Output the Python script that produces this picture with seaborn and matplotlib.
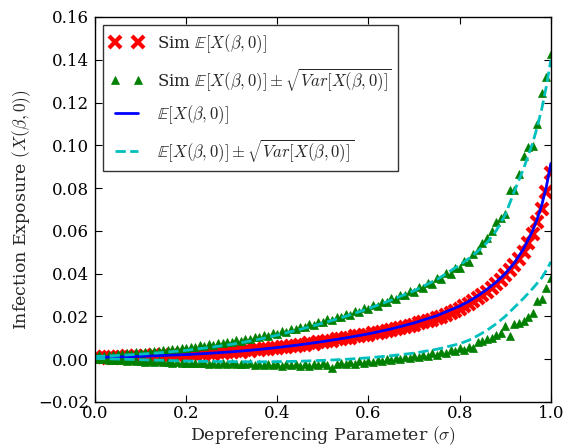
import numpy as np
import matplotlib
matplotlib.use('Agg')
import matplotlib.pyplot as plt
import seaborn as sns

# simulation grid (sigma) and simulated values
sigma = np.linspace(0, 1, 101)

sim_mean = [
    0.0009, 0.0006, 0.0011, 0.0008, 0.0007, 0.0012, 0.0009, 0.0013, 0.0010, 0.0014,
    0.0012, 0.0016, 0.0013, 0.0017, 0.0015, 0.0019, 0.0016, 0.0021, 0.0018, 0.0022,
    0.0020, 0.0024, 0.0021, 0.0027, 0.0024, 0.0029, 0.0026, 0.0032, 0.0029, 0.0035,
    0.0032, 0.0038, 0.0035, 0.0041, 0.0038, 0.0045, 0.0042, 0.0049, 0.0047, 0.0054,
    0.0051, 0.0058, 0.0056, 0.0063, 0.0061, 0.0068, 0.0066, 0.0074, 0.0072, 0.0080,
    0.0078, 0.0086, 0.0085, 0.0092, 0.0092, 0.0099, 0.0099, 0.0106, 0.0106, 0.0113,
    0.0113, 0.0120, 0.0121, 0.0129, 0.0130, 0.0137, 0.0140, 0.0147, 0.0150, 0.0157,
    0.0160, 0.0168, 0.0172, 0.0180, 0.0185, 0.0193, 0.0199, 0.0208, 0.0216, 0.0226,
    0.0236, 0.0247, 0.0258, 0.0271, 0.0285, 0.0299, 0.0315, 0.0332, 0.0350, 0.0370,
    0.0391, 0.0415, 0.0441, 0.0470, 0.0503, 0.0542, 0.0587, 0.0640, 0.0702, 0.0780,
    0.0870,
]

sim_upper = [
    0.0015, 0.0018, 0.0016, 0.0021, 0.0019, 0.0024, 0.0022, 0.0027, 0.0025, 0.0031,
    0.0030, 0.0035, 0.0033, 0.0039, 0.0037, 0.0044, 0.0042, 0.0049, 0.0046, 0.0054,
    0.0052, 0.0058, 0.0057, 0.0064, 0.0062, 0.0069, 0.0068, 0.0075, 0.0073, 0.0082,
    0.0080, 0.0089, 0.0086, 0.0096, 0.0093, 0.0104, 0.0101, 0.0112, 0.0109, 0.0121,
    0.0118, 0.0131, 0.0128, 0.0141, 0.0139, 0.0152, 0.0150, 0.0163, 0.0160, 0.0175,
    0.0172, 0.0186, 0.0184, 0.0198, 0.0196, 0.0211, 0.0207, 0.0225, 0.0222, 0.0238,
    0.0236, 0.0253, 0.0249, 0.0268, 0.0265, 0.0284, 0.0280, 0.0301, 0.0298, 0.0318,
    0.0314, 0.0337, 0.0333, 0.0357, 0.0352, 0.0378, 0.0375, 0.0402, 0.0398, 0.0428,
    0.0425, 0.0458, 0.0455, 0.0490, 0.0510, 0.0545, 0.0565, 0.0600, 0.0640, 0.0660,
    0.0680, 0.0790, 0.0790, 0.0865, 0.0950, 0.0990, 0.0995, 0.1100, 0.1245, 0.1320,
    0.1425,
]

sim_lower = [
    0.0002, -0.0001, 0.0000, -0.0004, -0.0002, -0.0006, -0.0004, -0.0008, -0.0006, -0.0010,
    -0.0008, -0.0012, -0.0010, -0.0014, -0.0011, -0.0015, -0.0013, -0.0017, -0.0014, -0.0018,
    -0.0016, -0.0019, -0.0016, -0.0020, -0.0017, -0.0021, -0.0018, -0.0022, -0.0019, -0.0023,
    -0.0020, -0.0024, -0.0021, -0.0025, -0.0020, -0.0026, -0.0022, -0.0027, -0.0021, -0.0028,
    -0.0023, -0.0030, -0.0022, -0.0029, -0.0024, -0.0031, -0.0023, -0.0030, -0.0021, -0.0028,
    -0.0020, -0.0027, -0.0042, -0.0025, -0.0017, -0.0024, -0.0014, -0.0021, -0.0011, -0.0018,
    -0.0008, -0.0015, -0.0004, -0.0011, 0.0000, -0.0006, 0.0004, -0.0001, 0.0009, 0.0004,
    0.0014, 0.0009, 0.0020, 0.0015, 0.0027, 0.0021, 0.0034, 0.0028, 0.0042, 0.0036,
    0.0050, 0.0044, 0.0058, 0.0052, 0.0080, 0.0085, 0.0095, 0.0098, 0.0115, 0.0120,
    0.0153, 0.0110, 0.0165, 0.0170, 0.0176, 0.0195, 0.0215, 0.0270, 0.0280, 0.0332,
    0.0380,
]

# analytic curves
sigma_exact = [0.00, 0.05, 0.10, 0.15, 0.20, 0.25, 0.30, 0.35, 0.40, 0.45, 0.50,
               0.55, 0.60, 0.65, 0.70, 0.75, 0.80, 0.82, 0.84, 0.86, 0.88, 0.90,
               0.92, 0.94, 0.96, 0.97, 0.98, 0.99, 1.00]
exact_mean = [0.0008, 0.0010, 0.0013, 0.0017, 0.0021, 0.0027, 0.0034, 0.0043, 0.0054,
              0.0067, 0.0082, 0.0099, 0.0118, 0.0141, 0.0169, 0.0203, 0.0248, 0.0270,
              0.0296, 0.0326, 0.0360, 0.0400, 0.0450, 0.0515, 0.0600, 0.0655, 0.0720,
              0.0805, 0.0915]
exact_upper = [0.0012, 0.0017, 0.0023, 0.0031, 0.0041, 0.0054, 0.0069, 0.0088, 0.0112,
               0.0139, 0.0168, 0.0200, 0.0236, 0.0276, 0.0320, 0.0372, 0.0440, 0.0470,
               0.0505, 0.0545, 0.0600, 0.0675, 0.0785, 0.0890, 0.1010, 0.1085, 0.1170,
               0.1275, 0.1400]
exact_lower = [0.0003, 0.0000, -0.0003, -0.0006, -0.0009, -0.0011, -0.0012, -0.0013, -0.0012,
               -0.0010, -0.0006, -0.0001, 0.0006, 0.0016, 0.0028, 0.0046, 0.0072, 0.0088,
               0.0110, 0.0135, 0.0165, 0.0200, 0.0242, 0.0284, 0.0330, 0.0355, 0.0380,
               0.0415, 0.0455]

sns.set_style('ticks')
plt.rcParams['font.family'] = ['DejaVu Serif']
plt.rcParams['mathtext.fontset'] = 'cm'
plt.rcParams['xtick.direction'] = 'in'
plt.rcParams['ytick.direction'] = 'in'
plt.rcParams['xtick.top'] = True
plt.rcParams['ytick.right'] = True
plt.rcParams['axes.edgecolor'] = 'black'
plt.rcParams['axes.linewidth'] = 1.0
plt.rcParams['xtick.color'] = 'black'
plt.rcParams['ytick.color'] = 'black'

fig = plt.figure(figsize=(5.65, 4.47), dpi=100)
ax = fig.add_axes([0.168, 0.101, 0.807, 0.861])

sns.lineplot(x=sigma, y=sim_mean, ax=ax, linestyle='', marker='x', markersize=9,
             markeredgewidth=3, markeredgecolor='r', color='r',
             label=r'Sim $\mathbb{E}[X(\beta,0)]$')
sns.lineplot(x=sigma, y=sim_upper, ax=ax, linestyle='', marker='^', markersize=6,
             markeredgewidth=0.5, markeredgecolor='g', color='g',
             label=r'Sim $\mathbb{E}[X(\beta,0)] \pm \sqrt{Var[X(\beta,0)]}$')
sns.lineplot(x=sigma, y=sim_lower, ax=ax, linestyle='', marker='^', markersize=6,
             markeredgewidth=0.5, markeredgecolor='g', color='g', label='_nolegend_')
sns.lineplot(x=sigma_exact, y=exact_mean, ax=ax, color='b', linewidth=2,
             label=r'$\mathbb{E}[X(\beta,0)]$')
sns.lineplot(x=sigma_exact, y=exact_upper, ax=ax, color='c', linewidth=2, linestyle='--',
             label=r'$\mathbb{E}[X(\beta,0)] \pm \sqrt{Var[X(\beta,0)]}$')
sns.lineplot(x=sigma_exact, y=exact_lower, ax=ax, color='c', linewidth=2, linestyle='--',
             label='_nolegend_')

ax.set_xlim(0, 1)
ax.set_ylim(-0.02, 0.16)
ax.set_xticks([0.0, 0.2, 0.4, 0.6, 0.8, 1.0])
ax.set_yticks([-0.02, 0.0, 0.02, 0.04, 0.06, 0.08, 0.10, 0.12, 0.14, 0.16])
ax.set_xticklabels(['0.0', '0.2', '0.4', '0.6', '0.8', '1.0'])
ax.set_yticklabels(['\u22120.02', '0.00', '0.02', '0.04', '0.06', '0.08', '0.10',
                    '0.12', '0.14', '0.16'])
ax.tick_params(labelsize=12, length=5, width=0.8, pad=4)
ax.tick_params(axis='x', pad=2)
ax.set_xlabel(r'Depreferencing Parameter $(\sigma)$', fontsize=12.5, labelpad=2)
ax.set_ylabel(r'Infection Exposure $(X(\beta,0))$', fontsize=12.5)

leg = ax.legend(loc='upper left', numpoints=2, fontsize=12, frameon=True, fancybox=False,
                borderaxespad=0.5, labelspacing=0.65)
leg.get_frame().set_edgecolor('black')
leg.get_frame().set_linewidth(1.0)

fig.savefig('out.png', dpi=100)
